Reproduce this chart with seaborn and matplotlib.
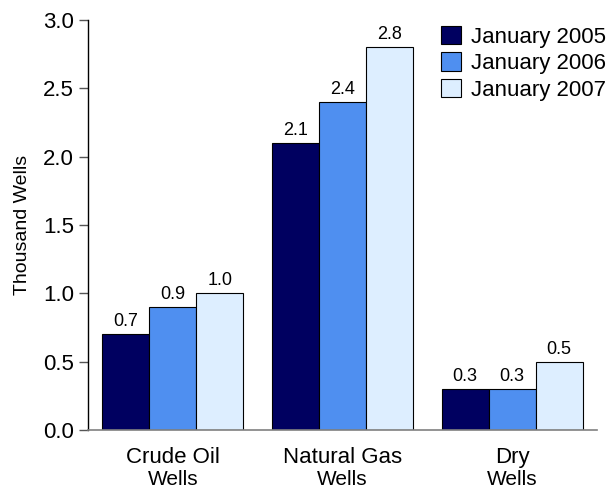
import numpy as np
import matplotlib.pyplot as plt
import seaborn as sns
import pandas as pd

categories = ['Crude Oil', 'Natural Gas', 'Dry']
sublabels = ['Wells', 'Wells', 'Wells']
years = ['January 2005', 'January 2006', 'January 2007']
jan2005 = [0.7, 2.1, 0.3]
jan2006 = [0.9, 2.4, 0.3]
jan2007 = [1.0, 2.8, 0.5]
colors = ['#000060', '#4f8ff0', '#ddeeff']

sns.set_style('white', {'text.color': 'black', 'axes.labelcolor': 'black',
                        'xtick.color': 'black', 'ytick.color': 'black'})
plt.rcParams['font.family'] = ['Liberation Sans', 'DejaVu Sans']

df = pd.DataFrame({
    'category': categories * 3,
    'year': np.repeat(years, 3),
    'value': jan2005 + jan2006 + jan2007,
})

fig = plt.figure(figsize=(6.14, 4.91), dpi=100)
ax = fig.add_axes([88 / 614, 1 - 430 / 491, (597 - 88) / 614, (430 - 20) / 491])

sns.barplot(data=df, x='category', y='value', hue='year', palette=colors,
            saturation=1, width=0.83, edgecolor='black', linewidth=0.8, ax=ax)

for c in ax.containers:
    ax.bar_label(c, fmt='%.1f', padding=3, fontsize=13, color='black')

ax.set_xlim(-0.5, 2.5)
ax.set_ylim(0, 3.0)
ax.set_yticks(np.arange(0, 3.01, 0.5))
ax.set_yticklabels([f'{v:.1f}' for v in np.arange(0, 3.01, 0.5)], fontsize=16)
ax.set_xticks(range(len(categories)))
ax.set_xticklabels(categories, fontsize=16)
ax.tick_params(axis='x', length=0, pad=12, labelcolor='black')
ax.tick_params(axis='y', length=6.5, width=1, color='#555555', direction='out',
               left=True, labelcolor='black')
for i, s in enumerate(sublabels):
    ax.annotate(s, xy=(i, 0), xycoords=('data', 'axes fraction'),
                xytext=(0, -29), textcoords='offset points',
                ha='center', va='top', fontsize=15, color='black')

ax.set_xlabel('')
ax.set_ylabel('Thousand Wells', fontsize=14, labelpad=9, color='black')

sns.despine(ax=ax)
ax.spines['left'].set_color('black')
ax.spines['left'].set_linewidth(1)
ax.spines['bottom'].set_color('#808080')
ax.spines['bottom'].set_linewidth(1.2)

leg = ax.legend(loc='upper left', bbox_to_anchor=((441 - 88) / 509, 1 - 6 / 410), frameon=False,
                fontsize=16, handlelength=0.9, handleheight=0.9, handletextpad=0.45,
                labelspacing=0.2, borderaxespad=0, borderpad=0)
for t in leg.get_texts():
    t.set_color('black')

fig.savefig('out.png', dpi=100)
